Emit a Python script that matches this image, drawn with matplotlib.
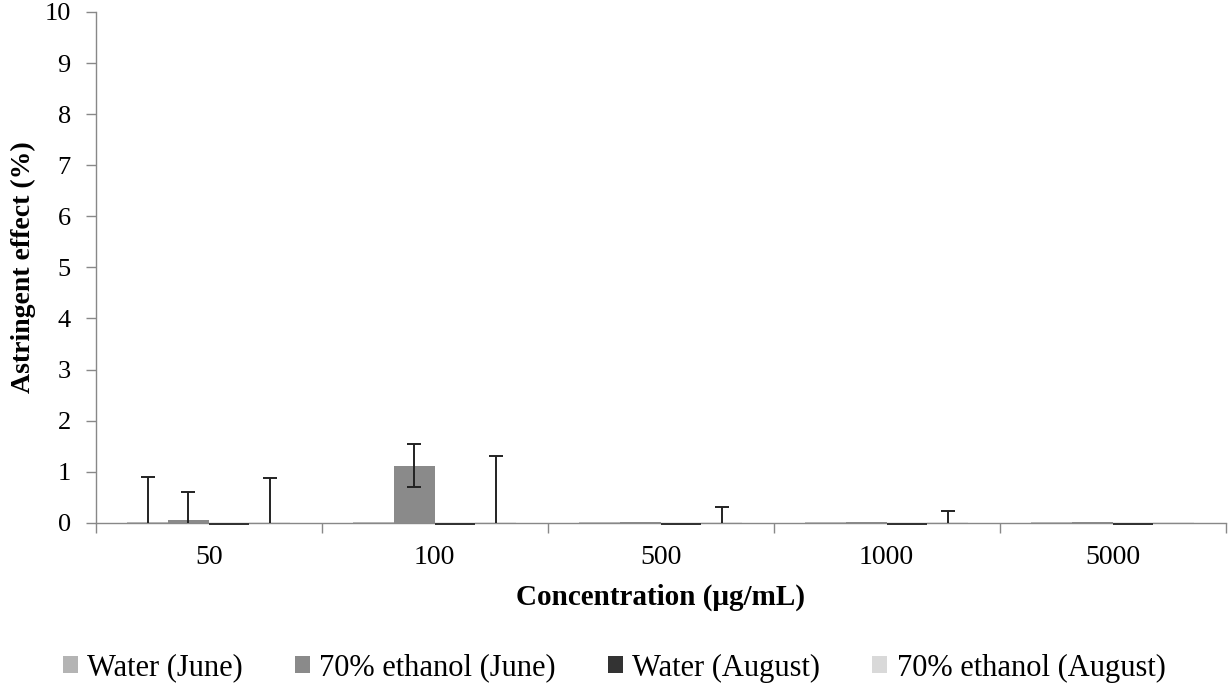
import matplotlib
matplotlib.use("Agg")
import matplotlib.pyplot as plt
import numpy as np
from matplotlib.patches import Patch

categories = ["50", "100", "500", "1000", "5000"]
series_names = ["Water (June)", "70% ethanol (June)", "Water (August)", "70% ethanol (August)"]
water_june = [0.02, 0.02, 0.02, 0.02, 0.02]
ethanol_june = [0.05, 1.12, 0.02, 0.02, 0.02]
water_august = [-0.05, -0.05, -0.05, -0.05, -0.05]
ethanol_august = [0.02, 0.02, 0.02, 0.02, 0.02]
err_water_june = [0.88, 0, 0, 0, 0]
err_ethanol_june = [0.55, 0.42, 0, 0, 0]
err_water_august = [0, 0, 0, 0, 0]
err_ethanol_august = [0.85, 1.28, 0.28, 0.2, 0]
colors = ["#b4b4b4", "#8a8a8a", "#333333", "#d9d9d9"]

plt.rcParams['font.family'] = ['Liberation Serif', 'DejaVu Serif']

fig = plt.figure(figsize=(12.28, 6.93), dpi=100)
ax = fig.add_axes([0.078, 0.2457, 0.92, 0.737])

values = [water_june, ethanol_june, water_august, ethanol_august]
errs = [err_water_june, err_ethanol_june, err_water_august, err_ethanol_august]
x = np.arange(len(categories))
w = 0.18
for i, (v, e, c) in enumerate(zip(values, errs, colors)):
    pos = x + (i - 1.5) * w
    ax.bar(pos, v, width=w, color=c, zorder=3, clip_on=False)
    e = np.array(e)
    mask = e > 0
    if mask.any():
        ax.errorbar(pos[mask], np.array(v)[mask], yerr=e[mask], fmt='none',
                    ecolor='#222222', elinewidth=1.4, capsize=5, capthick=1.4, zorder=4)

ax.set_xlim(-0.5, len(categories) - 0.5)
ax.set_ylim(0, 10)
ax.set_yticks(range(0, 11))
ax.set_xticks(x)
ax.set_xticklabels(categories)
ax.set_xticks(np.arange(-0.5, len(categories)), minor=True)
ax.tick_params(axis='x', which='major', length=0, labelsize=20, pad=16)
ax.tick_params(axis='x', which='minor', length=7, color='#888888', width=1)
ax.tick_params(axis='y', length=7, color='#888888', width=1, labelsize=19, pad=11)
for s in ['top', 'right']:
    ax.spines[s].set_visible(False)
for s in ['bottom', 'left']:
    ax.spines[s].set_color('#888888')
    ax.spines[s].set_linewidth(1)

ax.set_ylabel("Astringent effect (%)", fontsize=20, fontweight='bold', labelpad=6)
ax.set_xlabel("Concentration (μg/mL)", fontsize=21, fontweight='bold', labelpad=10)

handles = [Patch(facecolor=c, edgecolor='none') for c in colors]
fig.legend(handles, series_names, loc='center', bbox_to_anchor=(0.5, 0.036), ncol=4,
           frameon=False, fontsize=22, handlelength=0.5, handleheight=0.5,
           handletextpad=0.3, columnspacing=1.7)

fig.savefig("out.png", dpi=100)
